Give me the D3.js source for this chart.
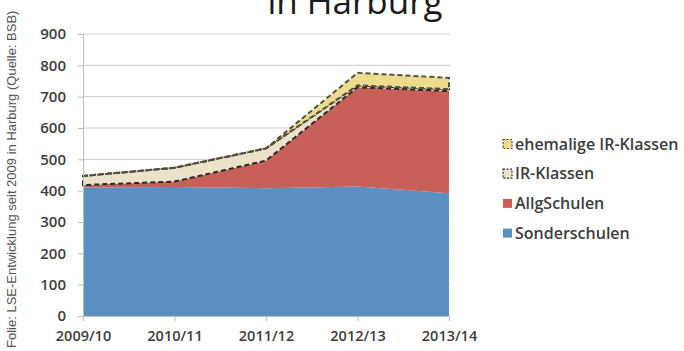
<!DOCTYPE html>
<html>
<head>
<meta charset="utf-8">
<script src="https://cdn.jsdelivr.net/npm/d3@7"></script>
<style>
  html, body { margin: 0; padding: 0; background: #fff; }
  svg { display: block; }
</style>
</head>
<body>
<svg id="chart" width="684" height="351"></svg>
<script>
// School years on the x axis
const categories = ["2009/10", "2010/11", "2011/12", "2012/13", "2013/14"];
// Pupils per school type (stacked bottom to top)
const sonderschulen = [410, 412, 408, 413, 392];
const allgSchulen = [8, 17, 88, 317, 326];
const irKlassen = [29, 44, 39, 6, 6];
const ehemaligeIrKlassen = [0, 0, 0, 40, 36];
const yTicks = [0, 100, 200, 300, 400, 500, 600, 700, 800, 900];

const seriesNames = ["Sonderschulen", "AllgSchulen", "IR-Klassen", "ehemalige IR-Klassen"];
const table = categories.map((c, i) => ({
  cat: c,
  "Sonderschulen": sonderschulen[i],
  "AllgSchulen": allgSchulen[i],
  "IR-Klassen": irKlassen[i],
  "ehemalige IR-Klassen": ehemaligeIrKlassen[i]
}));

const svg = d3.select("#chart");
const plotLeft = 83, plotRight = 449, plotTop = 34, plotBottom = 316;
const font = "Open Sans, Lato, sans-serif";

const x = d3.scalePoint().domain(categories).range([plotLeft, plotRight]);
const y = d3.scaleLinear().domain([0, 900]).range([plotBottom, plotTop]);

const fills = {
  "Sonderschulen": "#5b8ec3",
  "AllgSchulen": "#c95f59",
  "IR-Klassen": "#ebe2c9",
  "ehemalige IR-Klassen": "#eedc8e"
};
const strokes = {
  "IR-Klassen": "#2a2a2a",
  "ehemalige IR-Klassen": "#55503c"
};

// Title (only its lower part fits in the frame)
svg.append("text")
  .attr("x", 355).attr("y", 14)
  .attr("text-anchor", "middle")
  .attr("font-family", font)
  .attr("font-size", 35)
  .attr("fill", "#1a1a1a")
  .text("in Harburg");

// Horizontal gridlines
svg.append("g").selectAll("line")
  .data(yTicks.filter(d => d > 0))
  .join("line")
  .attr("x1", plotLeft).attr("x2", plotRight + 1)
  .attr("y1", d => y(d)).attr("y2", d => y(d))
  .attr("stroke", "#d4d4d4").attr("stroke-width", 1.2);

// Stacked areas
const stack = d3.stack().keys(seriesNames);
const layers = stack(table);
const area = d3.area()
  .x(d => x(d.data.cat))
  .y0(d => y(d[0]))
  .y1(d => y(d[1]));

svg.append("g").selectAll("path")
  .data(layers)
  .join("path")
  .attr("d", area)
  .attr("fill", d => fills[d.key])
  .attr("stroke", d => strokes[d.key] || "none")
  .attr("stroke-width", d => strokes[d.key] ? 2 : 0)
  .attr("stroke-dasharray", d => strokes[d.key] ? "5,3" : null);

// Y axis
const yAxis = d3.axisLeft(y).tickValues(yTicks).tickSize(5).tickPadding(12);
const gy = svg.append("g").attr("transform", `translate(${plotLeft},0)`).call(yAxis);
gy.select(".domain").attr("stroke", "#bcbcbc");
gy.selectAll(".tick line").attr("stroke", "#bcbcbc");
gy.selectAll(".tick text")
  .attr("font-family", font)
  .attr("font-size", 15)
  .attr("font-weight", 600)
  .attr("fill", "#3d3d3d");

// X axis
const xAxis = d3.axisBottom(x).tickSize(5).tickPadding(10).tickSizeOuter(0);
const gx = svg.append("g").attr("transform", `translate(0,${plotBottom})`).call(xAxis);
gx.select(".domain").attr("stroke", "#bcbcbc");
gx.selectAll(".tick line").attr("stroke", "#bcbcbc");
gx.selectAll(".tick text")
  .attr("font-family", font)
  .attr("font-size", 14.5)
  .attr("font-weight", 600)
  .attr("fill", "#3d3d3d");

// Legend (top series first)
const legendItems = seriesNames.slice().reverse();
const lg = svg.append("g").attr("transform", "translate(503,144)");
const row = lg.selectAll("g").data(legendItems).join("g")
  .attr("transform", (d, i) => `translate(0,${i * 29.7})`);
row.append("rect")
  .attr("x", 0).attr("y", -4.5).attr("width", 9).attr("height", 9)
  .attr("fill", d => fills[d])
  .attr("stroke", d => strokes[d] || "none")
  .attr("stroke-width", 1.2)
  .attr("stroke-dasharray", d => strokes[d] ? "2,1.5" : null);
row.append("text")
  .attr("x", 12).attr("y", 0)
  .attr("dy", "0.35em")
  .attr("font-family", font)
  .attr("font-size", 16)
  .attr("font-weight", 600)
  .attr("fill", "#3d3d3d")
  .text(d => d);

// Source note along the left edge
svg.append("text")
  .attr("transform", "translate(16,348) rotate(-90)")
  .attr("font-family", "Liberation Sans, Arial, sans-serif")
  .attr("font-size", 13)
  .attr("fill", "#555")
  .text("Folie: LSE-Entwicklung seit 2009 in Harburg (Quelle: BSB)");
</script>
</body>
</html>
